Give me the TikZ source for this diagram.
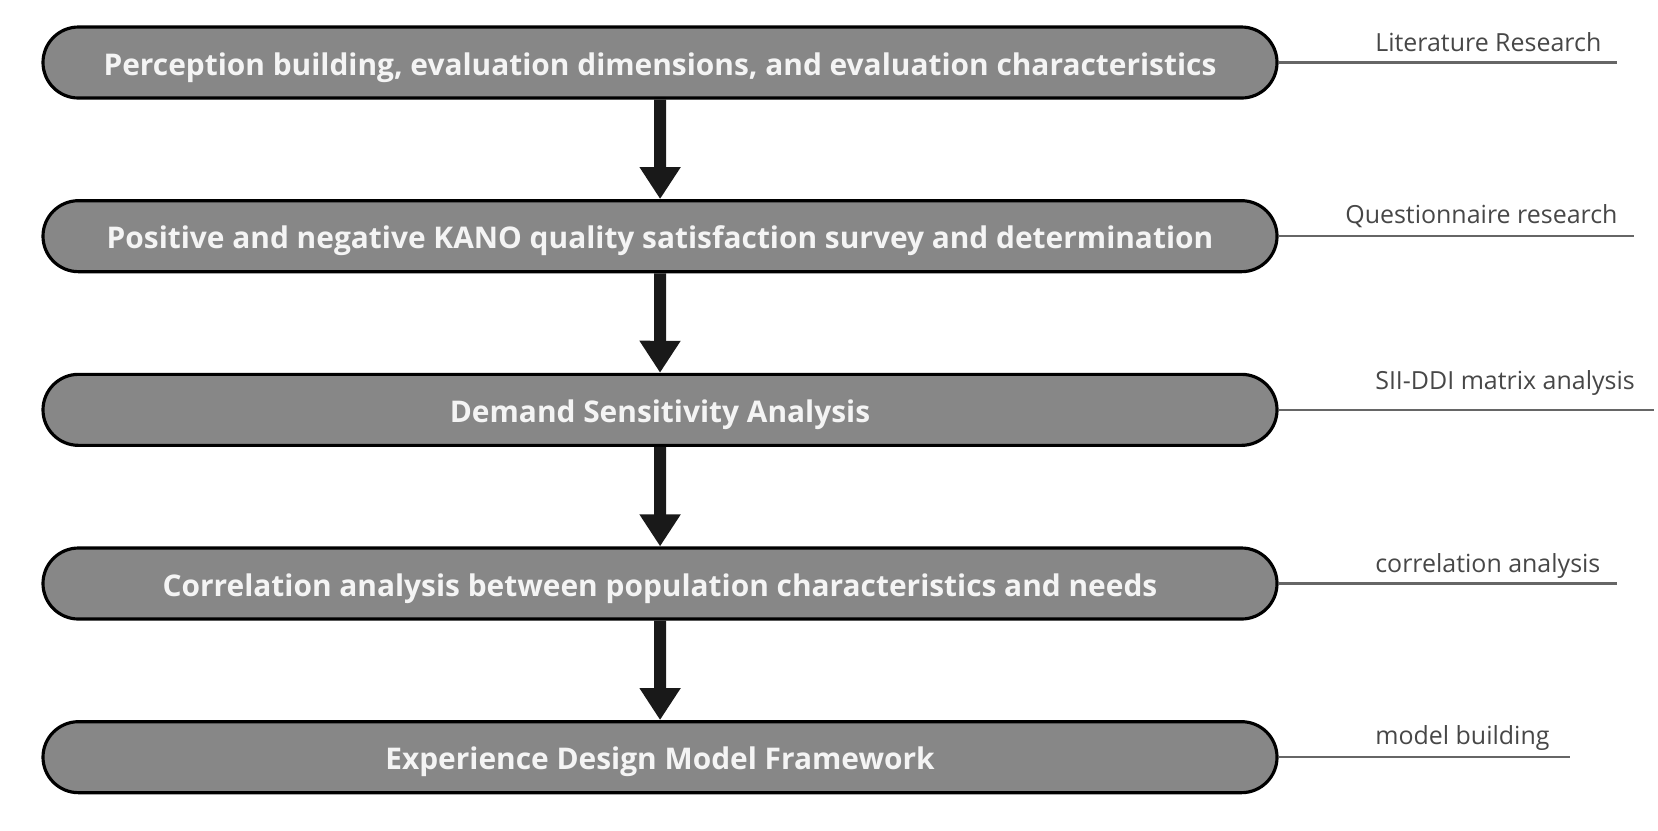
\documentclass[tikz,border=0pt]{standalone}
\usepackage{fontspec}
\setmainfont{Open Sans}
\usetikzlibrary{positioning, shapes.misc, arrows.meta}
\definecolor{boxgray}{HTML}{878787}
\definecolor{boxtext}{HTML}{F4F4F4}
\definecolor{notegray}{HTML}{474747}
\definecolor{linegray}{HTML}{666666}

\begin{document}
\begin{tikzpicture}[
        node distance=0.995cm,
        stepbox/.style={rounded rectangle, draw=black, line width=0.9pt, fill=boxgray, text=boxtext,
            minimum width=12.34cm, minimum height=0.71cm, inner sep=0pt,
            text height=0.72em, text depth=0pt,
            font=\bfseries\fontsize{8.5}{9}\selectfont},
        flow/.style={-{Triangle[width=0.39cm, length=0.32cm]}, line width=0.12cm, black!90},
        note/.style={anchor=base west, text=notegray, inner sep=0pt, font=\fontsize{7.1}{8}\selectfont},
        noteline/.style={draw=linegray, line width=0.65pt}
    ]
        \useasboundingbox (0,0) rectangle (16.58,-8.30);

        % Các bước chính
        \node [stepbox] (perception) at (6.60,-0.625) {Perception building, evaluation dimensions, and evaluation characteristics};
        \node [stepbox, below=of perception] (kano) {Positive and negative KANO quality satisfaction survey and determination};
        \node [stepbox, below=of kano] (sensitivity) {Demand Sensitivity Analysis};
        \node [stepbox, below=of sensitivity] (correlation) {Correlation analysis between population characteristics and needs};
        \node [stepbox, below=of correlation] (framework) {Experience Design Model Framework};

        % Mũi tên giữa các bước
        \draw[flow] (perception) -- (kano);
        \draw[flow] (kano) -- (sensitivity);
        \draw[flow] (sensitivity) -- (correlation);
        \draw[flow] (correlation) -- (framework);

        % Phương pháp bên phải
        \coordinate (e1) at ([xshift=3.38cm]perception.east);
        \coordinate (e2) at ([xshift=3.55cm]kano.east);
        \coordinate (e3) at ([xshift=3.75cm]sensitivity.east);
        \coordinate (e4) at ([xshift=3.38cm]correlation.east);
        \coordinate (e5) at ([xshift=2.91cm]framework.east);
        \draw[noteline] (perception.east) -- (e1);
        \draw[noteline] (kano.east) -- (e2);
        \draw[noteline] (sensitivity.east) -- (e3);
        \draw[noteline] (correlation.east) -- (e4);
        \draw[noteline] (framework.east) -- (e5);

        \node [note] (lit) at ([xshift=0.96cm, yshift=0.11cm]perception.east) {Literature Research};
        \node [note] (quest) at ([xshift=0.66cm, yshift=0.13cm]kano.east) {Questionnaire research};
        \node [note] (matrix) at ([xshift=0.96cm, yshift=0.20cm]sensitivity.east) {SII-DDI matrix analysis};
        \node [note] (corr) at ([xshift=0.96cm, yshift=0.11cm]correlation.east) {correlation analysis};
        \node [note] (model) at ([xshift=0.96cm, yshift=0.13cm]framework.east) {model building};
    \end{tikzpicture}
\end{document}
